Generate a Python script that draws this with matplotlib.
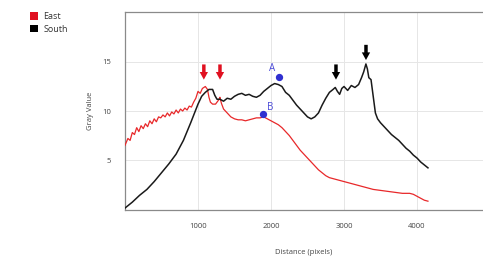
import matplotlib
matplotlib.use("Agg")
import matplotlib.pyplot as plt
from matplotlib.patches import Patch

plt.rcParams['font.family'] = ['Open Sans', 'DejaVu Sans']

south_x = [0, 100, 200, 300, 400, 500, 600, 700, 800, 900, 1000, 1050, 1100, 1150, 1200, 1230, 1260,
           1300, 1350, 1400, 1450, 1500, 1550, 1600, 1650, 1700, 1750, 1800, 1850, 1900, 1950, 2000,
           2050, 2100, 2150, 2200, 2250, 2300, 2350, 2400, 2450, 2500, 2550, 2600, 2650, 2700, 2750,
           2800, 2850, 2880, 2910, 2940, 2970, 3000, 3050, 3100, 3150, 3200, 3240, 3270, 3300, 3320,
           3340, 3370, 3400, 3430, 3460, 3500, 3550, 3600, 3650, 3700, 3750, 3800, 3850, 3900, 3950,
           4000, 4050, 4100, 4150]
south_y = [0.1, 0.7, 1.4, 2.0, 2.8, 3.7, 4.6, 5.6, 7.0, 8.8, 10.7, 11.5, 11.9, 12.2, 12.2, 11.6, 11.2,
           11.2, 11.0, 11.3, 11.2, 11.5, 11.7, 11.8, 11.6, 11.7, 11.5, 11.4, 11.6, 12.0, 12.3, 12.6,
           12.8, 12.7, 12.5, 11.9, 11.6, 11.1, 10.6, 10.2, 9.8, 9.4, 9.2, 9.4, 9.8, 10.6, 11.3,
           11.9, 12.2, 12.4, 12.0, 11.7, 12.3, 12.5, 12.1, 12.6, 12.4, 12.7, 13.4, 14.0, 14.8, 14.3,
           13.4, 13.2, 11.5, 9.8, 9.2, 8.8, 8.4, 8.0, 7.6, 7.3, 7.0, 6.6, 6.2, 5.9, 5.5,
           5.2, 4.8, 4.5, 4.2]

east_x = [0, 40, 70, 100, 130, 160, 190, 220, 250, 280, 310, 340, 370, 400, 430, 460, 490, 520, 550,
          580, 610, 640, 670, 700, 730, 760, 790, 820, 850, 880, 910, 940, 970, 1000, 1030, 1060, 1100,
          1130, 1150, 1170, 1200, 1240, 1270, 1290, 1300, 1320, 1350, 1400, 1450, 1500, 1550, 1600,
          1650, 1700, 1750, 1800, 1850, 1900, 1950, 2000, 2050, 2100, 2150, 2200, 2250, 2300, 2350,
          2400, 2450, 2500, 2550, 2600, 2650, 2700, 2750, 2800, 2900, 3000, 3100, 3200, 3300, 3400,
          3500, 3600, 3700, 3800, 3900, 3950, 4000, 4050, 4100, 4150]
east_y = [6.5, 7.2, 7.0, 7.8, 7.6, 8.3, 7.9, 8.5, 8.2, 8.7, 8.4, 9.0, 8.7, 9.2, 8.9, 9.4, 9.3, 9.6, 9.4,
          9.8, 9.5, 9.9, 9.7, 10.1, 9.8, 10.2, 10.0, 10.3, 10.1, 10.5, 10.4, 10.9, 11.3, 12.0, 11.8, 12.3, 12.5,
          12.2, 11.4, 10.9, 10.7, 10.7, 11.0, 11.2, 11.4, 10.8, 10.2, 9.8, 9.4, 9.2, 9.1, 9.1,
          9.0, 9.1, 9.2, 9.3, 9.3, 9.4, 9.2, 9.0, 8.8, 8.6, 8.3, 7.9, 7.5, 7.0, 6.5,
          6.0, 5.6, 5.2, 4.8, 4.4, 4.0, 3.7, 3.4, 3.2, 3.0, 2.8, 2.6, 2.4, 2.2, 2.0,
          1.9, 1.8, 1.7, 1.6, 1.6, 1.5, 1.3, 1.1, 0.9, 0.8]

red_arrow_x = [1080, 1301]
red_arrow_tip = [13.2, 13.2]
black_arrow_x = [2890, 3301]
black_arrow_tip = [13.2, 15.2]

points_label = ['A', 'B']
points_x = [2110, 1890]
points_y = [13.5, 9.7]

x_ticks = [1000, 2000, 3000, 4000]
y_ticks = [5, 10, 15]

fig = plt.figure(figsize=(4.83, 2.61), dpi=100)
ax = fig.add_axes([125/483, 1-210/261, 1-125/483, (210-12)/261])

red = '#e8282a'
ax.plot(east_x, east_y, color=red, lw=0.9, zorder=3)
ax.plot(south_x, south_y, color='#1a1a1a', lw=1.1, zorder=4)

for xs, tips, c in [(red_arrow_x, red_arrow_tip, '#e01020'), (black_arrow_x, black_arrow_tip, 'black')]:
    for x, t in zip(xs, tips):
        ax.annotate('', xy=(x, t), xytext=(x, t + 1.55),
                    arrowprops=dict(arrowstyle='simple,head_width=0.6,head_length=0.55,tail_width=0.25',
                                    color=c, lw=0, shrinkA=0, shrinkB=0), zorder=6)

ax.scatter(points_x, points_y, s=18, color='#3030d0', zorder=7)
ax.text(points_x[0] - 60, points_y[0] + 0.3, points_label[0], color='#4a4ad8', fontsize=7,
        ha='right', va='bottom')
ax.text(points_x[1] + 60, points_y[1] + 0.1, points_label[1], color='#4a4ad8', fontsize=7,
        ha='left', va='bottom')

ax.set_xlim(0, 4904)
ax.set_ylim(-0.1, 20.1)
ax.set_xticks(x_ticks)
ax.set_xticklabels([str(v) for v in x_ticks])
ax.set_yticks(y_ticks)
ax.set_yticklabels([str(v) for v in y_ticks])
ax.tick_params(length=0, labelsize=5.5, labelcolor='#444444')
ax.tick_params(axis='x', pad=9)
ax.tick_params(axis='y', pad=10)
ax.grid(True, color='#e6e6e6', lw=0.7)
ax.set_axisbelow(True)
for s in ['left', 'bottom', 'top']:
    ax.spines[s].set_color('#8a8a8a')
    ax.spines[s].set_linewidth(0.9)
ax.spines['right'].set_visible(False)

ax.set_xlabel('Distance (pixels)', fontsize=5.5, color='#444444', labelpad=14)
ax.set_ylabel('Gray Value', fontsize=5.5, color='#444444', labelpad=6)

handles = [Patch(facecolor='#e01020', edgecolor='none', label='East'),
           Patch(facecolor='black', edgecolor='none', label='South')]
fig.legend(handles=handles, loc='upper left', bbox_to_anchor=(0.045, 0.985), frameon=False,
           fontsize=6.5, handlelength=0.9, handleheight=0.9, handletextpad=0.6, labelspacing=0.4,
           labelcolor='#333333')

fig.savefig('out.png', dpi=100)
